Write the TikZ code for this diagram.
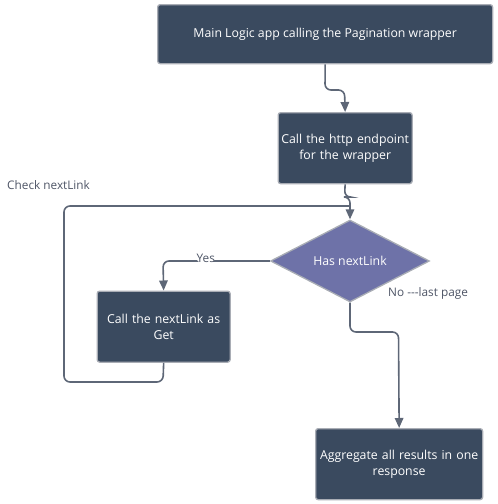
\documentclass[tikz,border=0pt]{standalone}
\usepackage{fontspec}
\setmainfont{Open Sans}
\usetikzlibrary{arrows.meta,shapes.geometric}
\definecolor{boxfill}{HTML}{3A4A5F}
\definecolor{boxedge}{HTML}{A9ADB5}
\definecolor{dfill}{HTML}{6E72A8}
\definecolor{linec}{HTML}{5E6777}
\definecolor{labc}{HTML}{4E5566}
\tikzset{
  x=1pt,y=-1pt,
  boxnode/.style={draw=boxedge,line width=1.3pt,fill=boxfill,rounded corners=2.5pt,
    text=white,font=\fontsize{12.3}{15.5}\selectfont,align=center,inner sep=0pt,anchor=north west},
  conn/.style={draw=linec,line width=1.6pt,rounded corners=6pt},
  arr/.style={conn,-{Triangle[length=10pt,width=8.5pt]}},
  lab/.style={text=labc,font=\fontsize{11.8}{14}\selectfont,inner sep=1pt}
}
\begin{document}
\begin{tikzpicture}
\useasboundingbox (0,0) rectangle (498,504);
\node[boxnode,minimum width=335pt,minimum height=59pt] (b1) at (157,4) {Main Logic app calling the Pagination wrapper};
\node[boxnode,minimum width=134pt,minimum height=71pt,text width=130pt] (b2) at (277.5,112) {Call the http endpoint\\for the wrapper};
\node[diamond,draw=boxedge,line width=1.3pt,fill=dfill,text=white,font=\fontsize{12.3}{15}\selectfont,
  minimum width=159pt,minimum height=82pt,inner sep=0pt,aspect=2] (d) at (350,261) {Has nextLink};
\node[boxnode,minimum width=133pt,minimum height=71pt,text width=130pt] (b3) at (96.5,290.5) {Call the nextLink as\\Get};
\node[boxnode,minimum width=167pt,minimum height=71pt,text width=164pt] (b4) at (315,428) {Aggregate all results in one\\response};
\node[lab,anchor=west] (l1) at (6,185) {Check nextLink};
\node[lab,anchor=west,text=labc] (l3) at (387,293) {No -{}-{}-last page};
\coordinate (j1) at (350,206);
\draw[arr] (b1.south) -- (325,90) -- (344.5,90) -- (b2.north);
\draw[arr] (b2.south) -- (344.5,197) -- (350,197) -- (d.north);
\draw[conn] (b3.south) -- (163,382) -- (64,382) -- (64,206) -- (j1);
\draw[arr] (d.west) -- node[pos=0.6,fill=white,lab,inner sep=0.5pt,yshift=3pt] (l2) {Yes} (163,261) -- (b3.north);
\draw[arr] (d.south) -- (350,332) -- (398.5,332) -- (b4.north);
\end{tikzpicture}
\end{document}
